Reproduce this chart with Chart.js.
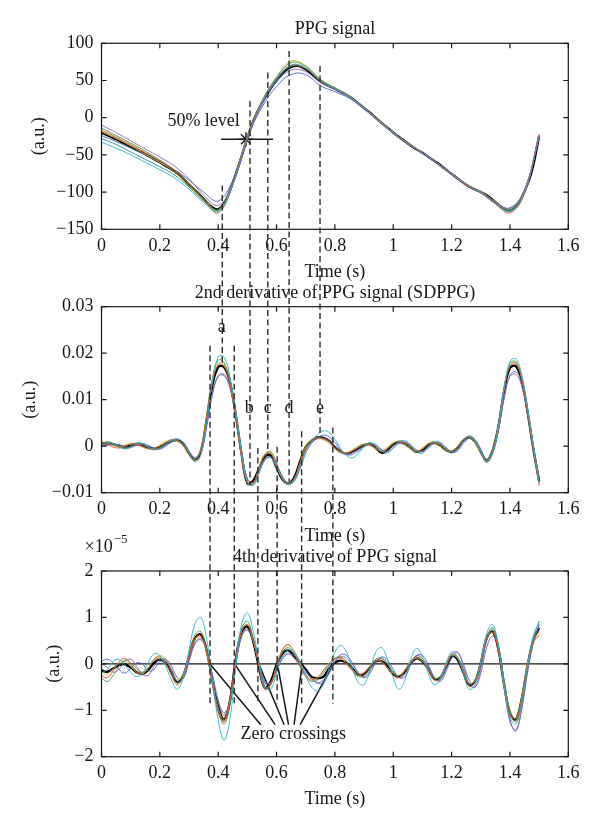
<!DOCTYPE html>
<html>
<head>
<meta charset="utf-8">
<script src="https://cdn.jsdelivr.net/npm/chart.js@4.4.1/dist/chart.umd.min.js"></script>
<style>
  html, body { margin: 0; padding: 0; background: #fff; }
  #wrap { position: relative; width: 600px; height: 833px; }
  #wrap canvas { position: absolute; left: 0; top: 0; }
</style>
</head>
<body>
<div id="wrap">
  <canvas id="ppg" width="600" height="833"></canvas>
  <canvas id="sdppg" width="600" height="833"></canvas>
  <canvas id="fdppg" width="600" height="833"></canvas>
</div>
<script>
// --- Time grids (s) ---
const TIME_FINE = [0,0.025,0.05,0.075,0.1,0.125,0.15,0.175,0.2,0.225,0.25,0.275,0.3,0.325,0.35,0.375,0.4,0.425,0.45,0.475,
  0.5,0.525,0.55,0.575,0.6,0.625,0.65,0.675,0.7,0.725,0.75,0.775,0.8,0.825,0.85,0.875,0.9,0.925,0.95,0.975,
  1,1.025,1.05,1.075,1.1,1.125,1.15,1.175,1.2,1.225,1.25,1.275,1.3,1.325,1.35,1.375,1.4,1.425,1.45,1.475,1.5];
const TIME_COARSE = [0,0.05,0.1,0.15,0.2,0.25,0.3,0.35,0.4,0.45,0.5,0.55,0.6,0.65,0.7,0.75,0.8,0.85,0.9,0.95,
  1,1.05,1.1,1.15,1.2,1.25,1.3,1.35,1.4,1.45,1.5];
const TIME_DERIV = [0,0.02,0.04,0.06,0.08,0.1,0.12,0.14,0.16,0.18,
  0.2,0.22,0.24,0.26,0.28,0.3,0.32,0.34,0.36,0.38,
  0.4,0.42,0.44,0.46,0.48,0.5,0.52,0.54,0.56,0.58,
  0.6,0.62,0.64,0.66,0.68,0.7,0.72,0.74,0.76,0.78,
  0.8,0.82,0.84,0.86,0.88,0.9,0.92,0.94,0.96,0.98,
  1,1.02,1.04,1.06,1.08,1.1,1.12,1.14,1.16,1.18,
  1.2,1.22,1.24,1.26,1.28,1.3,1.32,1.34,1.36,1.38,
  1.4,1.42,1.44,1.46,1.48,1.5];

// --- PPG signal (a.u.) ---
const PPG_MEAN = [-20,-24.5,-29,-34,-39,-44,-49,-54.5,-60,-66,-72,-80,-90,-99,-109,-119,-123,-112,-87.6,-58.4,
  -27,0,20,36,50.7,61.5,68.3,69.6,65,57,49.4,43.6,39,33.7,28.3,21,13,5,-3.6,-12,
  -20,-27.4,-34.6,-41.3,-47,-54,-60.6,-68,-75.4,-83,-90,-95.6,-100,-105.5,-113.6,-121,-124.4,-117,-99,-72,-24.7];
const PPG_RUNS = [
  [-10,-20,-31,-42,-53,-65,-82,-104,-118,-88,-28,18,48,64,62,47,38,27,12,-5,-21,-35,-48,-61,-75,-89,-100,-114,-122,-97,-24],
  [-33,-41,-50,-60,-70,-81,-96,-114,-126,-90,-29,20,52,71,67,50,39,28,13,-4,-20,-35,-47,-61,-76,-90,-101,-115,-125,-100,-26],
  [-17,-26,-36,-47,-58,-71,-89,-110,-128,-90,-27,21,52,70,66,49,39,28,13,-4,-20,-35,-47,-62,-76,-91,-101,-116,-128,-102,-22],
  [-14,-24,-34,-45,-57,-70,-88,-108,-124,-87,-26,22,54,74,69,51,40,29,14,-4,-21,-35,-47,-61,-75,-90,-100,-114,-124,-98,-24],
  [-19,-28,-38,-49,-60,-73,-91,-110,-124,-87,-25,22,55,76,70,52,40,28,13,-3,-20,-34,-47,-61,-75,-89,-99,-113,-123,-97,-23],
  [-24,-32,-41,-50,-60,-70,-84,-100,-112,-84,-27,14,42,58,58,43,35,26,12,-4,-20,-35,-48,-62,-76,-90,-101,-115,-121,-98,-26],
  [-28,-36,-46,-56,-66,-77,-93,-112,-125,-89,-28,19,50,69,66,50,39,28,13,-4,-20,-35,-47,-61,-75,-90,-100,-115,-126,-100,-25]
];
const HALF_LEVEL = -29;
const HALF_SPAN = [0.41, 0.588];
const HALF_T = 0.495;

// --- 2nd derivative (SDPPG) ---
const SD_MEAN = [
  0.0006,0.0006,0.0004,0.0001,-0.0001,0.0001,0.0004,0.0002,-0.0003,-0.0005,
  -0.0002,0.0005,0.0011,0.0013,0.0005,-0.0015,-0.0029,-0.0012,0.0055,0.0130,
  0.0170,0.0170,0.0138,0.0068,-0.0016,-0.0080,-0.0074,-0.0048,-0.0022,-0.0020,
  -0.0046,-0.0071,-0.0080,-0.0068,-0.0034,-0.0002,0.0012,0.0019,0.0018,0.0012,
  -0.0002,-0.0012,-0.0016,-0.0012,-0.0005,0.0002,0.0004,-0.0004,-0.0014,-0.0008,
  0.0004,0.0009,0.0005,-0.0004,-0.0012,-0.0008,0.0003,0.0007,0.0002,-0.0008,
  -0.0012,-0.0004,0.0012,0.0019,0.0010,-0.0012,-0.0031,-0.0010,0.0041,0.0118,
  0.0168,0.0172,0.0141,0.0075,-0.0005,-0.0076];
const SD_RUNS = [
  [0.0002,0.0008,0.0006,0.0000,-0.0006,-0.0002,0.0006,0.0005,-0.0003,-0.0008,
   -0.0004,0.0004,0.0013,0.0016,0.0008,-0.0014,-0.0034,-0.0020,0.0050,0.0138,
   0.0192,0.0192,0.0150,0.0075,-0.0012,-0.0075,-0.0085,-0.0058,-0.0030,-0.0025,
   -0.0045,-0.0070,-0.0082,-0.0075,-0.0050,-0.0015,0.0010,0.0025,0.0033,0.0030,
   0.0015,-0.0005,-0.0020,-0.0025,-0.0015,0.0000,0.0008,0.0003,-0.0010,-0.0015,
   -0.0003,0.0010,0.0012,0.0002,-0.0012,-0.0015,-0.0002,0.0010,0.0008,-0.0005,
   -0.0015,-0.0008,0.0010,0.0022,0.0015,-0.0010,-0.0035,-0.0018,0.0040,0.0125,
   0.0182,0.0188,0.0155,0.0085,0.0000,-0.0080],
  [0.0008,0.0004,-0.0002,-0.0004,0.0000,0.0005,0.0006,0.0001,-0.0005,-0.0006,
   0.0000,0.0008,0.0014,0.0013,0.0002,-0.0018,-0.0030,-0.0008,0.0062,0.0135,
   0.0175,0.0172,0.0135,0.0062,-0.0022,-0.0080,-0.0080,-0.0048,-0.0020,-0.0016,
   -0.0040,-0.0068,-0.0082,-0.0072,-0.0040,-0.0006,0.0010,0.0017,0.0016,0.0010,
   -0.0003,-0.0012,-0.0014,-0.0010,-0.0003,0.0003,0.0003,-0.0005,-0.0012,-0.0006,
   0.0005,0.0010,0.0006,-0.0003,-0.0010,-0.0006,0.0004,0.0008,0.0003,-0.0007,
   -0.0011,-0.0003,0.0013,0.0022,0.0012,-0.0012,-0.0035,-0.0013,0.0040,0.0120,
   0.0172,0.0178,0.0145,0.0078,-0.0005,-0.0085],
  [0.0004,0.0010,0.0006,-0.0002,-0.0005,0.0000,0.0007,0.0006,-0.0002,-0.0007,
   -0.0003,0.0006,0.0012,0.0012,0.0004,-0.0016,-0.0027,-0.0008,0.0065,0.0145,
   0.0185,0.0180,0.0140,0.0066,-0.0020,-0.0080,-0.0082,-0.0050,-0.0018,-0.0012,
   -0.0036,-0.0066,-0.0080,-0.0070,-0.0038,-0.0005,0.0012,0.0018,0.0016,0.0009,
   -0.0004,-0.0013,-0.0015,-0.0010,-0.0002,0.0004,0.0004,-0.0004,-0.0011,-0.0005,
   0.0006,0.0011,0.0005,-0.0005,-0.0012,-0.0007,0.0004,0.0009,0.0004,-0.0006,
   -0.0010,-0.0002,0.0014,0.0020,0.0010,-0.0013,-0.0030,-0.0008,0.0045,0.0125,
   0.0178,0.0182,0.0148,0.0078,-0.0003,-0.0072],
  [0.0002,0.0003,0.0005,0.0003,-0.0001,-0.0002,0.0002,0.0004,0.0000,-0.0006,
   -0.0006,0.0002,0.0010,0.0012,0.0005,-0.0012,-0.0024,-0.0010,0.0045,0.0112,
   0.0152,0.0155,0.0128,0.0066,-0.0012,-0.0070,-0.0078,-0.0052,-0.0028,-0.0024,
   -0.0045,-0.0068,-0.0078,-0.0070,-0.0040,-0.0008,0.0008,0.0016,0.0017,0.0013,
   0.0001,-0.0010,-0.0016,-0.0014,-0.0007,0.0000,0.0005,0.0001,-0.0009,-0.0010,
   0.0000,0.0008,0.0008,0.0000,-0.0010,-0.0011,-0.0002,0.0007,0.0006,-0.0004,
   -0.0012,-0.0006,0.0010,0.0018,0.0011,-0.0010,-0.0028,-0.0010,0.0035,0.0105,
   0.0150,0.0155,0.0130,0.0072,-0.0004,-0.0070],
  [0.0010,0.0007,0.0002,-0.0002,0.0002,0.0006,0.0004,-0.0002,-0.0006,-0.0004,
   0.0003,0.0010,0.0014,0.0010,0.0000,-0.0020,-0.0028,-0.0005,0.0068,0.0142,
   0.0178,0.0175,0.0140,0.0070,-0.0015,-0.0076,-0.0080,-0.0046,-0.0016,-0.0014,
   -0.0040,-0.0070,-0.0083,-0.0072,-0.0036,0.0000,0.0014,0.0018,0.0014,0.0006,
   -0.0006,-0.0014,-0.0014,-0.0008,0.0000,0.0005,0.0002,-0.0006,-0.0010,-0.0002,
   0.0008,0.0010,0.0003,-0.0006,-0.0011,-0.0004,0.0006,0.0008,0.0000,-0.0009,
   -0.0010,0.0000,0.0015,0.0020,0.0008,-0.0014,-0.0032,-0.0008,0.0042,0.0122,
   0.0176,0.0180,0.0146,0.0074,-0.0006,-0.0078],
  [0.0000,0.0002,0.0003,0.0000,-0.0004,-0.0003,0.0003,0.0006,0.0002,-0.0004,
   -0.0006,0.0000,0.0009,0.0014,0.0009,-0.0010,-0.0026,-0.0016,0.0040,0.0110,
   0.0150,0.0152,0.0126,0.0064,-0.0012,-0.0070,-0.0080,-0.0056,-0.0030,-0.0022,
   -0.0040,-0.0065,-0.0080,-0.0076,-0.0048,-0.0014,0.0006,0.0018,0.0024,0.0020,
   0.0008,-0.0008,-0.0018,-0.0018,-0.0010,-0.0002,0.0005,0.0003,-0.0007,-0.0012,
   -0.0004,0.0006,0.0009,0.0003,-0.0008,-0.0012,-0.0004,0.0006,0.0008,-0.0002,
   -0.0012,-0.0010,0.0006,0.0017,0.0014,-0.0006,-0.0028,-0.0016,0.0032,0.0102,
   0.0152,0.0160,0.0138,0.0080,0.0002,-0.0068]
];
// a..e waves: PPG landmarks joined to SDPPG waves
const WAVE_NAMES = ['a', 'b', 'c', 'd', 'e'];
const WAVE_T = [0.414, 0.509, 0.570, 0.643, 0.749];
const WAVE_FROM_PPG = [-91, 22.5, 60.6, 89.8, 69.6];
const WAVE_TO_SD = [0.0177, -0.0084, -0.0015, -0.0076, 0.0027];
const WAVE_LABEL_T = [0.412, 0.506, 0.570, 0.643, 0.749];
const WAVE_LABEL_Y = [0.0256, 0.0081, 0.0081, 0.0081, 0.0081];

// --- 4th derivative (x 1e-5) ---
const FD_MEAN = [
  -0.14,-0.17,-0.10,-0.03,-0.01,-0.08,-0.18,-0.22,-0.13,0.02,
  0.09,0.02,-0.18,-0.39,-0.25,0.15,0.55,0.63,0.30,-0.35,
  -0.92,-1.20,-0.80,0.08,0.68,0.80,0.48,-0.08,-0.52,-0.38,
  -0.02,0.22,0.29,0.17,0.03,-0.12,-0.28,-0.31,-0.28,-0.10,
  0.03,0.07,0.02,-0.10,-0.23,-0.22,-0.08,0.05,0.06,-0.05,
  -0.22,-0.27,-0.17,0.02,0.12,0.05,-0.10,-0.32,-0.30,-0.08,
  0.16,0.10,-0.18,-0.45,-0.38,0.02,0.55,0.70,0.32,-0.45,
  -1.05,-1.20,-0.76,-0.05,0.50,0.77];
const FD_RUNS = [
  [-0.20,-0.12,0.05,0.10,-0.02,-0.18,-0.28,-0.20,0.02,0.22,
   0.18,-0.05,-0.35,-0.55,-0.30,0.30,0.85,1.00,0.55,-0.35,
   -1.20,-1.65,-1.20,-0.05,0.85,1.10,0.70,0.05,-0.50,-0.55,
   -0.20,0.15,0.30,0.25,0.05,-0.25,-0.50,-0.58,-0.45,-0.10,
   0.25,0.40,0.25,-0.10,-0.40,-0.45,-0.15,0.25,0.35,0.10,
   -0.30,-0.55,-0.35,0.10,0.33,0.15,-0.20,-0.45,-0.35,0.00,
   0.25,0.15,-0.20,-0.55,-0.45,0.05,0.65,0.85,0.40,-0.50,
   -1.15,-1.30,-0.85,-0.05,0.60,0.90],
  [-0.25,-0.30,-0.15,0.05,0.12,0.00,-0.15,-0.20,-0.08,0.10,
   0.15,0.02,-0.25,-0.45,-0.28,0.15,0.55,0.62,0.25,-0.45,
   -1.05,-1.25,-0.78,0.10,0.72,0.85,0.50,-0.05,-0.55,-0.45,
   -0.05,0.30,0.42,0.25,-0.02,-0.25,-0.35,-0.30,-0.15,-0.02,
   0.10,0.12,0.00,-0.15,-0.25,-0.20,-0.05,0.08,0.05,-0.10,
   -0.25,-0.30,-0.15,0.05,0.14,0.05,-0.12,-0.35,-0.32,-0.05,
   0.18,0.12,-0.15,-0.48,-0.40,0.02,0.52,0.68,0.28,-0.48,
   -1.08,-1.22,-0.78,-0.05,0.45,0.62],
  [-0.30,-0.38,-0.25,-0.05,0.08,0.02,-0.10,-0.18,-0.10,0.08,
   0.12,0.00,-0.22,-0.42,-0.25,0.20,0.62,0.70,0.32,-0.40,
   -1.00,-1.30,-0.90,0.02,0.75,0.92,0.55,-0.02,-0.50,-0.45,
   -0.08,0.25,0.35,0.22,-0.05,-0.28,-0.38,-0.35,-0.20,-0.02,
   0.12,0.15,0.05,-0.12,-0.28,-0.25,-0.08,0.10,0.12,0.00,
   -0.18,-0.25,-0.15,0.05,0.15,0.08,-0.10,-0.30,-0.28,-0.05,
   0.20,0.15,-0.12,-0.42,-0.38,0.00,0.55,0.78,0.42,-0.35,
   -1.02,-1.25,-0.85,-0.10,0.55,0.92],
  [0.00,-0.08,-0.18,-0.12,0.05,0.10,-0.05,-0.22,-0.25,-0.05,
   0.10,0.08,-0.12,-0.38,-0.30,0.10,0.45,0.55,0.30,-0.25,
   -0.82,-1.10,-0.80,0.00,0.60,0.75,0.50,0.00,-0.42,-0.40,
   -0.10,0.15,0.22,0.12,-0.05,-0.20,-0.32,-0.40,-0.35,-0.15,
   0.05,0.15,0.12,-0.02,-0.20,-0.28,-0.15,0.05,0.12,0.02,
   -0.18,-0.30,-0.22,0.02,0.18,0.12,-0.08,-0.32,-0.35,-0.10,
   0.22,0.25,-0.05,-0.45,-0.50,-0.10,0.50,0.75,0.40,-0.50,
   -1.25,-1.42,-0.95,-0.15,0.50,0.80],
  [-0.18,-0.22,-0.10,0.02,0.05,-0.05,-0.18,-0.22,-0.10,0.08,
   0.18,0.10,-0.15,-0.35,-0.22,0.15,0.52,0.58,0.25,-0.38,
   -0.95,-1.20,-0.80,0.05,0.70,0.85,0.52,-0.05,-0.52,-0.42,
   -0.05,0.28,0.40,0.28,0.02,-0.22,-0.32,-0.30,-0.15,0.02,
   0.12,0.12,0.00,-0.12,-0.22,-0.18,-0.05,0.06,0.05,-0.08,
   -0.20,-0.25,-0.12,0.05,0.12,0.05,-0.10,-0.30,-0.28,-0.05,
   0.18,0.12,-0.15,-0.42,-0.35,0.05,0.55,0.72,0.35,-0.42,
   -1.00,-1.18,-0.72,0.00,0.48,0.70],
  [0.05,0.10,0.02,-0.12,-0.20,-0.10,0.02,0.00,-0.15,-0.12,
   0.05,0.10,-0.05,-0.30,-0.32,0.05,0.42,0.52,0.28,-0.22,
   -0.78,-1.05,-0.82,-0.05,0.58,0.72,0.48,0.02,-0.38,-0.42,
   -0.15,0.10,0.22,0.18,0.02,-0.15,-0.30,-0.42,-0.40,-0.20,
   0.05,0.20,0.18,0.02,-0.18,-0.30,-0.20,0.02,0.15,0.08,
   -0.12,-0.30,-0.28,-0.02,0.18,0.18,-0.02,-0.28,-0.38,-0.18,
   0.12,0.25,0.00,-0.35,-0.50,-0.20,0.35,0.60,0.38,-0.38,
   -1.20,-1.45,-1.00,-0.20,0.45,0.85]
];
// SDPPG landmarks joined down to the 4th derivative
const LINK_T = [0.372, 0.455, 0.536, 0.602, 0.686, 0.793];
const LINK_FROM_SD = [0.0216, 0.0216, -0.0004, -0.0001, 0.0032, 0.0040];
const LINK_TO_FD = [-0.86, -0.86, -0.86, -0.86, -0.86, -0.86];
const ZERO_CROSS_T = [0.371, 0.456, 0.539, 0.603, 0.688, 0.795];
const POINTER_END_T = [0.546, 0.595, 0.626, 0.641, 0.660, 0.681];
const POINTER_END_Y = -1.31;

// --- Styling ---
const FONT = '"Liberation Serif", "Times New Roman", serif';
const INK = '#161616';
const DASH_INK = '#2a2a2a';
const PPG_COLORS = ['#8a62b4', '#27b4c8', '#e4502a', '#3d9a47', '#c9b628', '#4a62c2', '#1c8f8a'];
const DERIV_COLORS = ['#27b4c8', '#e4502a', '#3d9a47', '#8a62b4', '#c9b628', '#4a62c2'];

Chart.defaults.font.family = FONT;
Chart.defaults.font.size = 18;
Chart.defaults.color = INK;

function fmt(v, digits) {
    const r = +v.toFixed(digits);
    if (r === 0) return '0';
    return r < 0 ? '\u2212' + String(-r) : String(r);
}

function trace(times, vals, color, width) {
    return {
        data: vals.map((v, i) => ({ x: times[i], y: v })),
        borderColor: color,
        borderWidth: width,
        pointRadius: 0,
        tension: 0.4,
        fill: false
    };
}

function segment(x0, y0, x1, y1, width) {
    return {
        data: [{ x: x0, y: y0 }, { x: x1, y: y1 }],
        borderColor: INK,
        borderWidth: width,
        pointRadius: 0,
        tension: 0,
        fill: false
    };
}

function panelOptions(o) {
    return {
        responsive: false,
        animation: false,
        events: [],
        layout: { padding: { left: 11.5, right: 31.7, top: o.top, bottom: o.bottom } },
        plugins: { legend: { display: false }, tooltip: { enabled: false }, title: { display: false } },
        scales: {
            x: {
                type: 'linear', min: 0, max: 1.6,
                grid: { display: false, drawTicks: false },
                border: { display: false },
                ticks: { stepSize: 0.2, padding: 6, maxRotation: 0, autoSkip: false, callback: v => fmt(v, 1) },
                title: { display: true, text: 'Time (s)', padding: { top: 0, bottom: o.xTitlePad } },
                afterFit: s => { s.height = 60; }
            },
            y: {
                type: 'linear', min: o.ymin, max: o.ymax,
                grid: { display: false, drawTicks: false },
                border: { display: false },
                ticks: { stepSize: o.ystep, padding: 8, callback: v => fmt(v, o.digits) },
                title: { display: true, text: '(a.u.)', padding: { top: o.yTitlePad, bottom: 0 } },
                afterFit: s => { s.width = 90; }
            }
        }
    };
}

// Box, inward ticks and the panel title (MATLAB look)
function framePlugin(title) {
    return {
        id: 'frame',
        afterDatasetsDraw(chart) {
            const { ctx, chartArea: a, scales: { x, y } } = chart;
            ctx.save();
            ctx.setLineDash([]);
            ctx.strokeStyle = INK;
            ctx.lineWidth = 1.2;
            ctx.strokeRect(a.left, a.top, a.right - a.left, a.bottom - a.top);
            ctx.beginPath();
            x.ticks.forEach(t => {
                const px = x.getPixelForValue(t.value);
                ctx.moveTo(px, a.bottom); ctx.lineTo(px, a.bottom - 5);
                ctx.moveTo(px, a.top); ctx.lineTo(px, a.top + 5);
            });
            y.ticks.forEach(t => {
                const py = y.getPixelForValue(t.value);
                ctx.moveTo(a.left, py); ctx.lineTo(a.left + 5, py);
                ctx.moveTo(a.right, py); ctx.lineTo(a.right - 5, py);
            });
            ctx.stroke();
            ctx.fillStyle = INK;
            ctx.font = '18px ' + FONT;
            ctx.textAlign = 'center';
            ctx.textBaseline = 'middle';
            ctx.fillText(title, (a.left + a.right) / 2, a.top - 13.7);
            ctx.restore();
        }
    };
}

function dashedLinks(ctx, xScale, fromScale, toScale, ts, from, to) {
    ctx.save();
    ctx.setLineDash([6, 3.5]);
    ctx.strokeStyle = DASH_INK;
    ctx.lineWidth = 1.4;
    ts.forEach((t, i) => {
        const px = xScale.getPixelForValue(t);
        ctx.beginPath();
        ctx.moveTo(px, fromScale.getPixelForValue(from[i]));
        ctx.lineTo(px, toScale.getPixelForValue(to[i]));
        ctx.stroke();
    });
    ctx.restore();
}

// --- Panel 1: PPG ---
const ppgChart = new Chart(document.getElementById('ppg'), {
    type: 'line',
    data: {
        datasets: [
            ...PPG_RUNS.map((r, i) => trace(TIME_COARSE, r, PPG_COLORS[i], 0.9)),
            trace(TIME_FINE, PPG_MEAN, '#000', 2.3),
            segment(HALF_SPAN[0], HALF_LEVEL, HALF_SPAN[1], HALF_LEVEL, 1.4),
            {
                data: [{ x: HALF_T, y: HALF_LEVEL }],
                pointStyle: 'star', pointRadius: 7, pointBorderWidth: 1.4,
                pointBorderColor: INK, showLine: false
            }
        ]
    },
    options: panelOptions({ top: 43.3, bottom: 543.7, xTitlePad: 6.5, yTitlePad: 16.5, ymin: -150, ymax: 100, ystep: 50, digits: 0 }),
    plugins: [framePlugin('PPG signal'), {
        id: 'halfLabel',
        afterDatasetsDraw(chart) {
            const { ctx, scales: { x, y } } = chart;
            ctx.save();
            ctx.fillStyle = INK;
            ctx.font = '18px ' + FONT;
            ctx.textAlign = 'center';
            ctx.textBaseline = 'middle';
            ctx.fillText('50% level', x.getPixelForValue(0.35), y.getPixelForValue(-5.4));
            ctx.restore();
        }
    }]
});

// --- Panel 2: SDPPG ---
const sdChart = new Chart(document.getElementById('sdppg'), {
    type: 'line',
    data: {
        datasets: [
            ...SD_RUNS.map((r, i) => trace(TIME_DERIV, r, DERIV_COLORS[i], 0.9)),
            trace(TIME_DERIV, SD_MEAN, '#000', 2.3)
        ]
    },
    options: panelOptions({ top: 306.7, bottom: 280.3, xTitlePad: 5.9, yTitlePad: 8, ymin: -0.01, ymax: 0.03, ystep: 0.01, digits: 2 }),
    plugins: [framePlugin('2nd derivative of PPG signal (SDPPG)'), {
        id: 'waves',
        afterDatasetsDraw(chart) {
            const { ctx, scales: { x, y } } = chart;
            dashedLinks(ctx, x, ppgChart.scales.y, y, WAVE_T, WAVE_FROM_PPG, WAVE_TO_SD);
            ctx.save();
            ctx.fillStyle = INK;
            ctx.font = '18px ' + FONT;
            ctx.textAlign = 'center';
            ctx.textBaseline = 'middle';
            WAVE_NAMES.forEach((n, i) => {
                ctx.fillText(n, x.getPixelForValue(WAVE_LABEL_T[i]), y.getPixelForValue(WAVE_LABEL_Y[i]));
            });
            ctx.restore();
        }
    }]
});

// --- Panel 3: 4th derivative ---
const fdChart = new Chart(document.getElementById('fdppg'), {
    type: 'line',
    data: {
        datasets: [
            ...FD_RUNS.map((r, i) => trace(TIME_DERIV, r, DERIV_COLORS[i], 0.9)),
            trace(TIME_DERIV, FD_MEAN, '#000', 2.3),
            segment(0, 0, 1.6, 0, 1.4),
            ...ZERO_CROSS_T.map((t, i) => segment(t, 0, POINTER_END_T[i], POINTER_END_Y, 1.5))
        ]
    },
    options: panelOptions({ top: 571, bottom: 16.3, xTitlePad: 6.9, yTitlePad: 31.7, ymin: -2, ymax: 2, ystep: 1, digits: 0 }),
    plugins: [framePlugin('4th derivative of PPG signal'), {
        id: 'crossings',
        afterDatasetsDraw(chart) {
            const { ctx, chartArea: a, scales: { x, y } } = chart;
            dashedLinks(ctx, x, sdChart.scales.y, y, LINK_T, LINK_FROM_SD, LINK_TO_FD);
            ctx.save();
            ctx.fillStyle = INK;
            ctx.font = '18px ' + FONT;
            ctx.textAlign = 'center';
            ctx.textBaseline = 'middle';
            ctx.fillText('Zero crossings', x.getPixelForValue(0.657), y.getPixelForValue(-1.51));
            // exponent of the y axis
            ctx.textAlign = 'left';
            const ex = a.left - 17;
            ctx.fillText('\u00d710', ex, a.top - 24);
            const w = ctx.measureText('\u00d710').width;
            ctx.font = '13px ' + FONT;
            ctx.fillText('\u22125', ex + w + 1, a.top - 31);
            ctx.restore();
        }
    }]
});
</script>
</body>
</html>
